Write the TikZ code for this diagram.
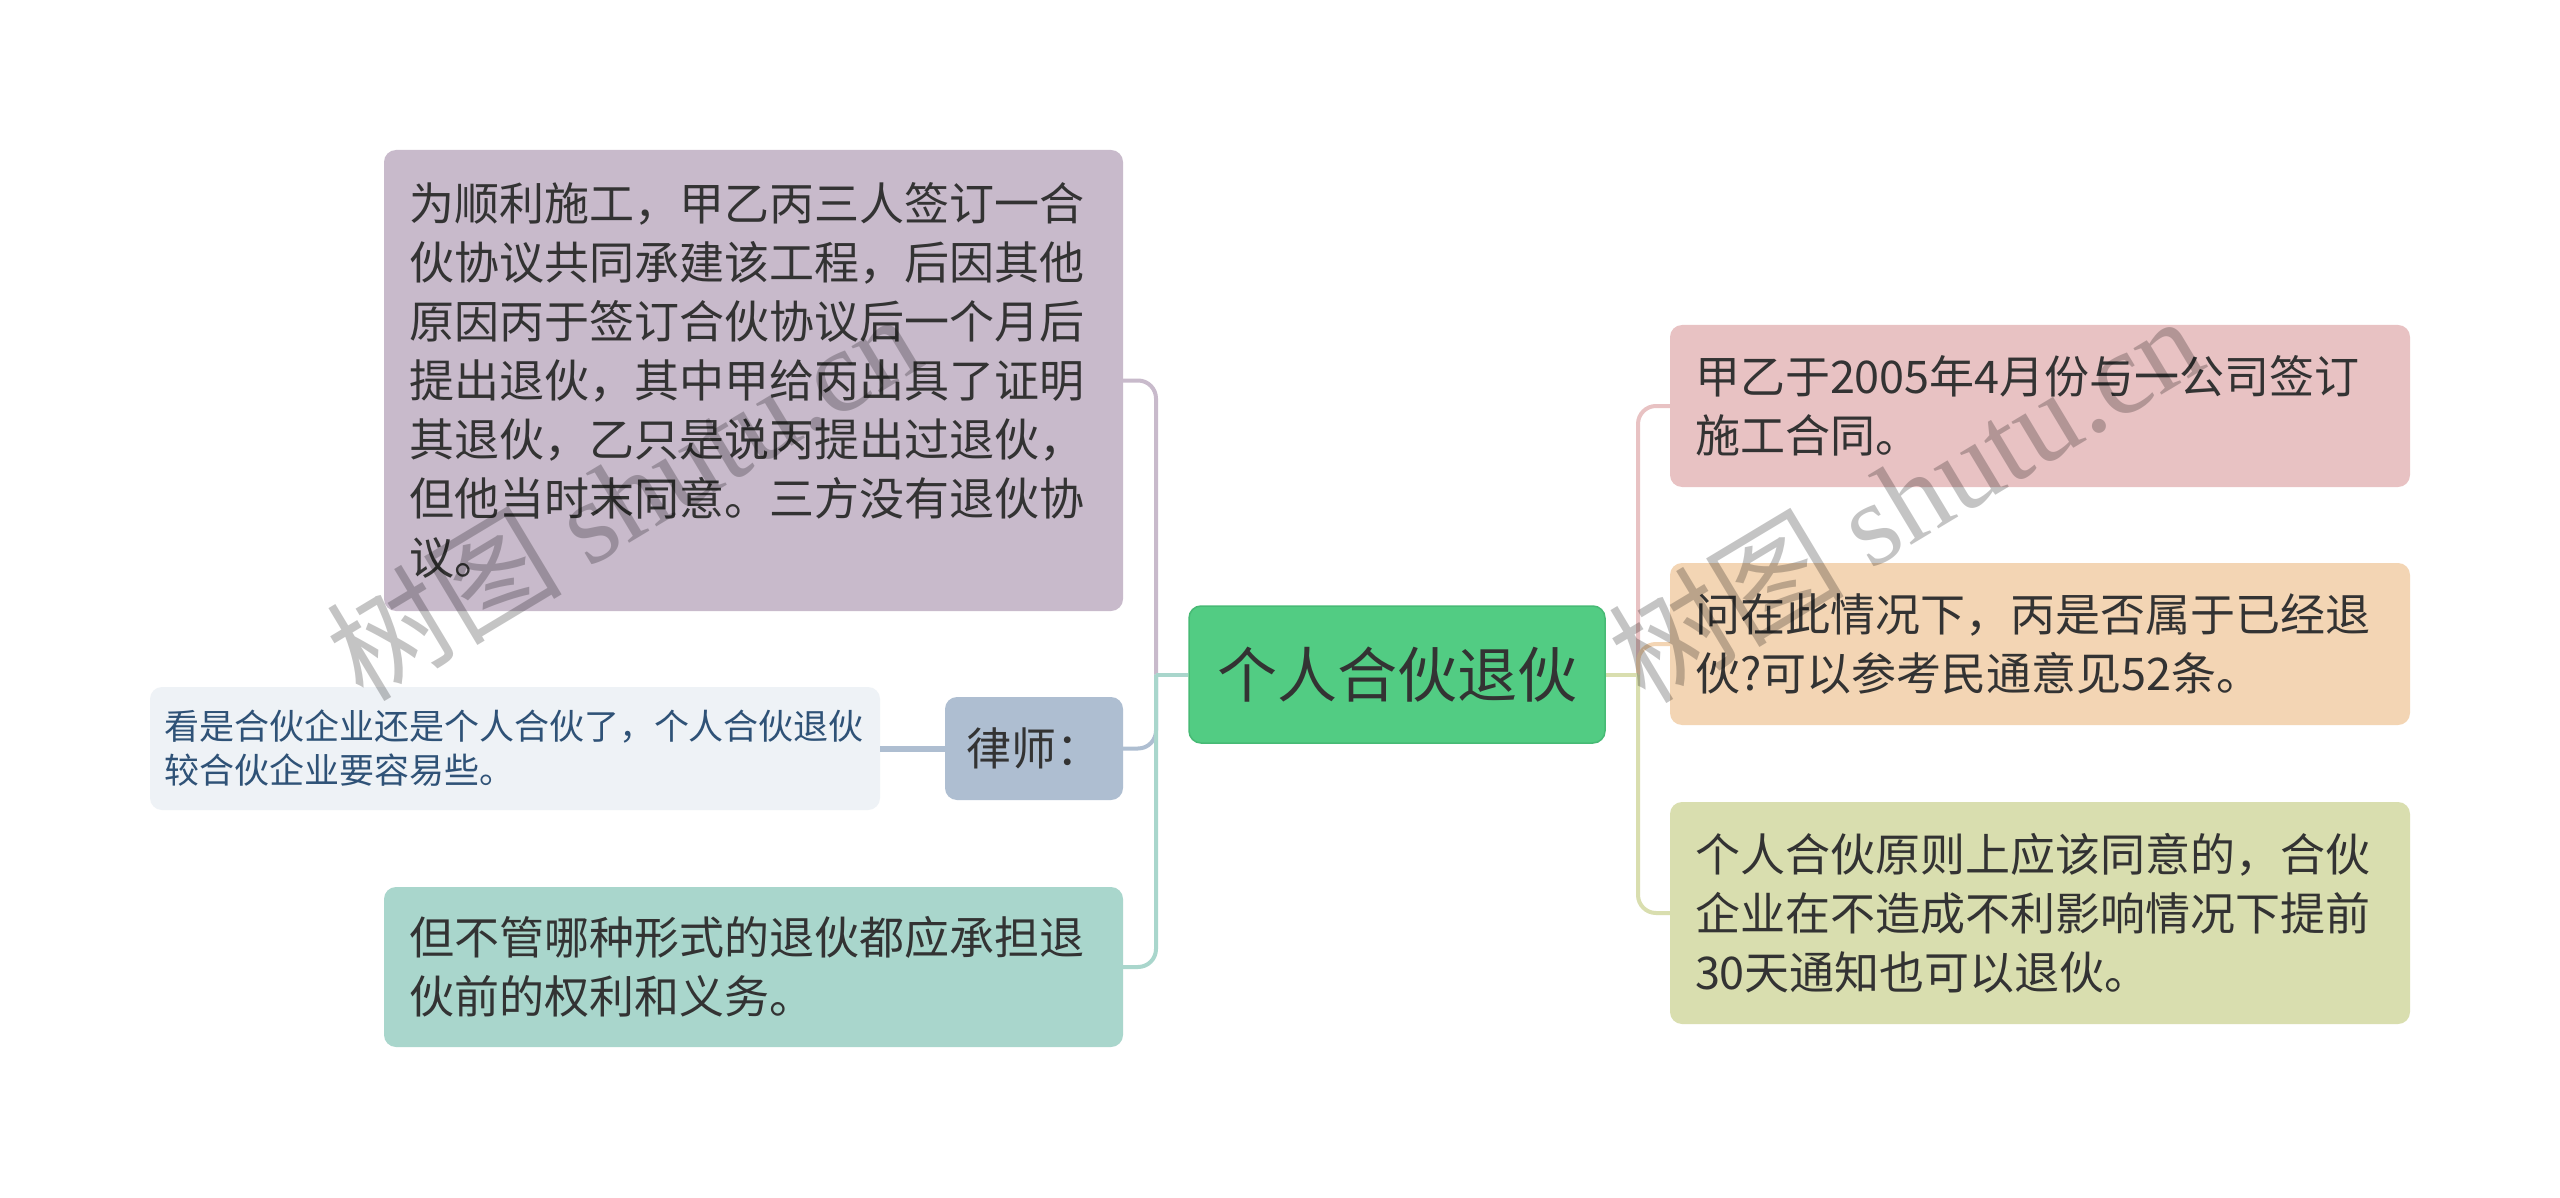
\documentclass[tikz,border=0pt]{standalone}
\usepackage{fontspec}
\setmainfont{Noto Sans CJK SC}
\newfontfamily\wmserif{Liberation Serif}
\newfontfamily\wmcjk{Noto Sans CJK SC}
\definecolor{txt}{HTML}{333333}
\definecolor{fP}{HTML}{C8BACB}
\definecolor{fL}{HTML}{AEBED1}
\definecolor{fLC}{HTML}{EEF2F6}
\definecolor{tLC}{HTML}{2F5277}
\definecolor{fT}{HTML}{A9D6CC}
\definecolor{fC}{HTML}{52CC83}
\definecolor{bC}{HTML}{47BA75}
\definecolor{fR1}{HTML}{E8C2C3}
\definecolor{fR2}{HTML}{F3D5B4}
\definecolor{fR3}{HTML}{D9DEAF}
\begin{document}
\begin{tikzpicture}[x=1pt,y=-1pt,
  box/.style={rounded corners=12pt, inner xsep=25pt, inner ysep=0pt, align=left,
    text=txt, font=\fontsize{45}{59}\selectfont},
  conn/.style={line width=4pt, rounded corners=18pt},
  wm/.style={inner sep=0pt, text=black, text opacity=0.23, font=\fontsize{118}{118}\selectfont}]
\fill[white] (0,0) rectangle (2560,1198);
\useasboundingbox (0,0) rectangle (2560,1198);

% central node
\node[box, fill=fC, draw=bC, line width=1.5pt, align=center, inner xsep=0pt,
  minimum width=416pt, minimum height=137pt, font=\fontsize{60}{70}\selectfont]
  (C) at (1397,674.5) {个人合伙退伙};

% left children
\node[box, fill=fP, text width=689pt, minimum height=461pt] (P) at (753.5,380.5)
  {为顺利施工，甲乙丙三人签订一合\\伙协议共同承建该工程，后因其他\\原因丙于签订合伙协议后一个月后\\提出退伙，其中甲给丙出具了证明\\其退伙，乙只是说丙提出过退伙，\\但他当时末同意。三方没有退伙协\\议。};
\node[box, fill=fL, align=center, inner xsep=0pt, minimum width=178pt, minimum height=103pt]
  (L) at (1034,748.5) {律师：};
\node[box, fill=fLC, text=tLC, inner xsep=14pt, text width=702pt, minimum height=123pt,
  font=\fontsize{35}{44}\selectfont] (LC) at (515,748.5)
  {看是合伙企业还是个人合伙了，个人合伙退伙\\较合伙企业要容易些。};
\node[box, fill=fT, text width=689pt, minimum height=160pt] (T) at (753.5,967)
  {但不管哪种形式的退伙都应承担退\\伙前的权利和义务。};

% right children
\node[box, fill=fR1, text width=690pt, minimum height=162pt] (R1) at (2040,406)
  {甲乙于2005年4月份与一公司签订\\施工合同。};
\node[box, fill=fR2, text width=690pt, minimum height=162pt] (R2) at (2040,644)
  {问在此情况下，丙是否属于已经退\\伙?可以参考民通意见52条。};
\node[box, fill=fR3, text width=690pt, minimum height=222pt] (R3) at (2040,913)
  {个人合伙原则上应该同意的，合伙\\企业在不造成不利影响情况下提前\\30天通知也可以退伙。};

% connectors
\coordinate (jl) at (1156,674.5);
\coordinate (jr) at (1638,674.5);
\draw[conn, draw=fP] (jl) |- (P.east);
\draw[conn, draw=fL] (jl) |- (L.east);
\draw[conn, draw=fT] (jl) |- (T.east);
\draw[conn, draw=fT] (C.west) -- (jl);
\draw[conn, draw=fR1] (jr) |- (R1.west);
\draw[conn, draw=fR2] (jr) |- (R2.west);
\draw[conn, draw=fR3] (jr) |- (R3.west);
\draw[conn, draw=fR3] (C.east) -- (jr);
\draw[line width=6pt, draw=fL] (LC.east) -- (L.west);

% watermarks
\node[wm, rotate=31, anchor=south west] (wm1) at (368,712) {\wmcjk 树图 \wmserif shutu.cn};
\node[wm, rotate=31, anchor=south west] (wm2) at (1650,714) {\wmcjk 树图 \wmserif shutu.cn};
\end{tikzpicture}
\end{document}
